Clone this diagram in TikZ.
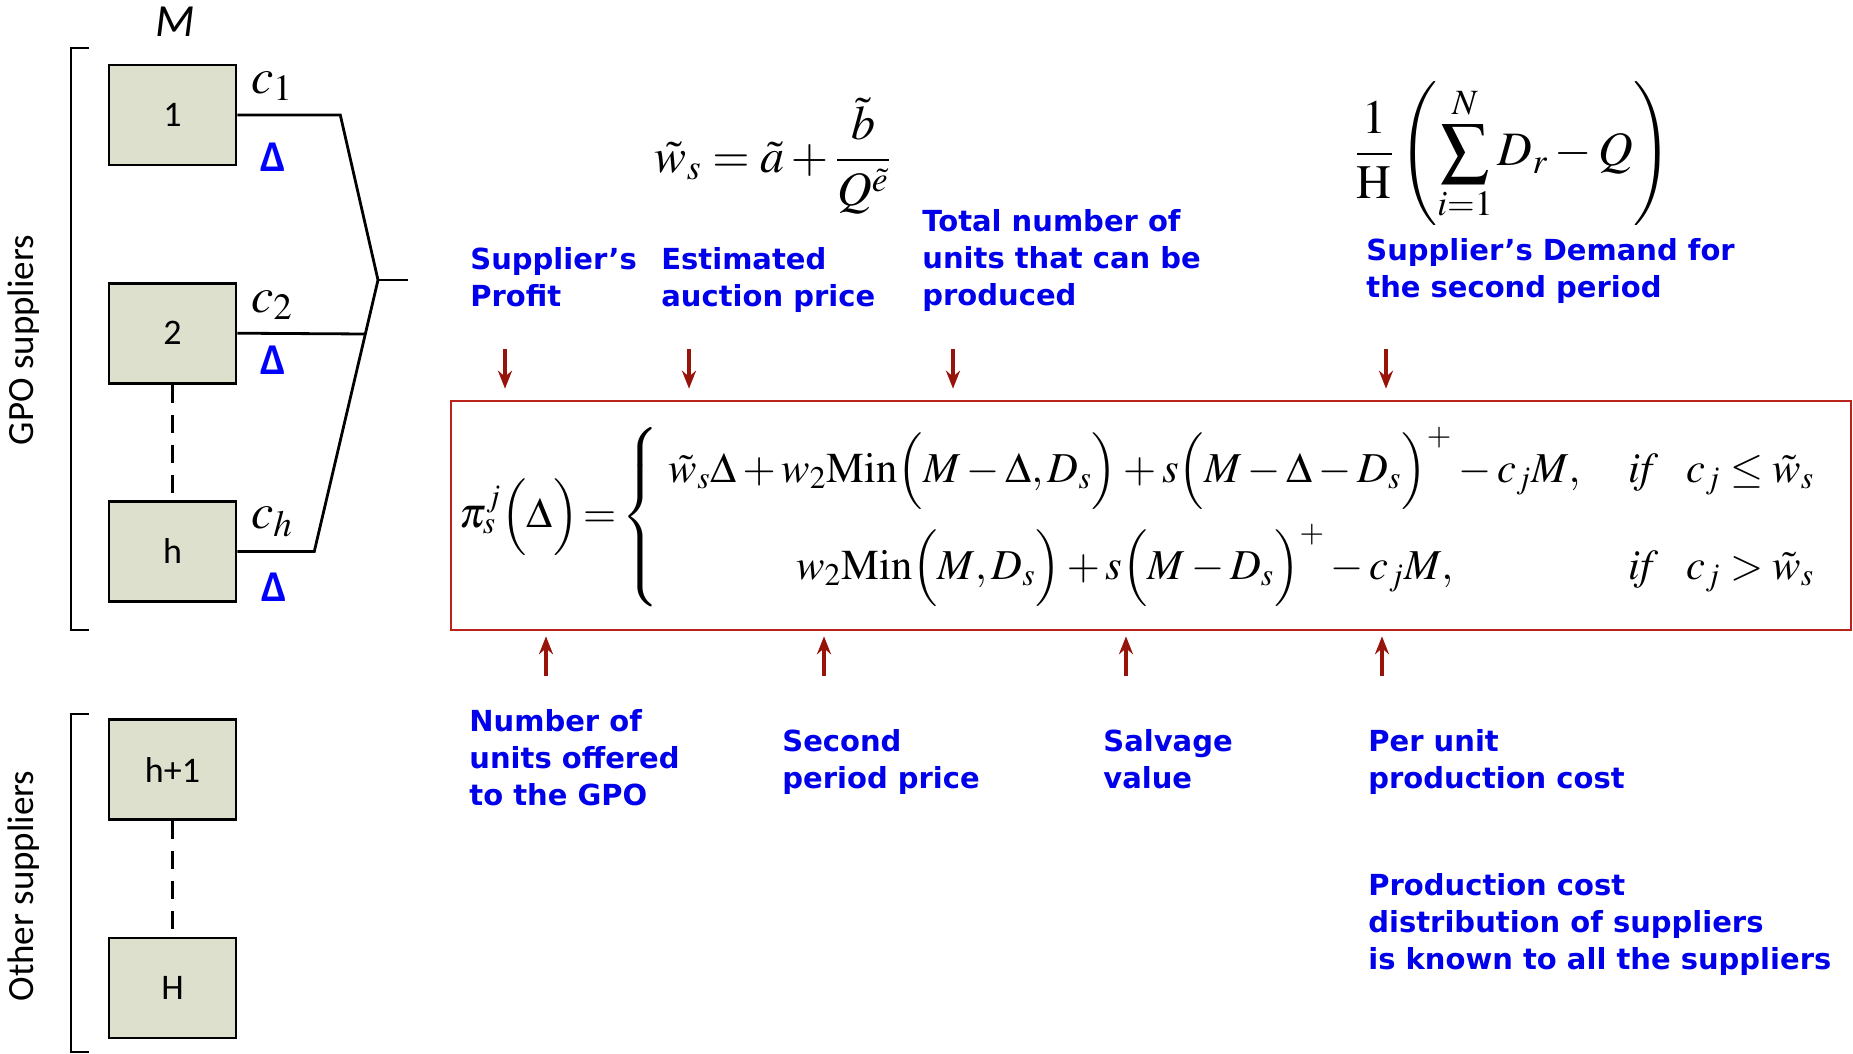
\documentclass[tikz,border=0pt]{standalone}
\usepackage{mathptmx}
\usepackage[no-math]{fontspec}
\setmainfont{Liberation Serif}
\newfontfamily\lblfont{DejaVu Sans}
\newfontfamily\boxfont{Carlito}
\usetikzlibrary{positioning,arrows.meta}
\definecolor{boxfill}{RGB}{221,224,205}
\definecolor{framered}{RGB}{185,35,25}
\definecolor{arrred}{RGB}{150,20,10}
\definecolor{lblblue}{RGB}{0,0,235}

\begin{document}
\begin{tikzpicture}[x=0.5pt, y=-0.5pt, node distance=57.8pt,
  sup/.style={draw, line width=1.3pt, fill=boxfill, minimum width=63.5pt, minimum height=50pt, inner sep=0pt, font=\boxfont\fontsize{18}{20}\selectfont},
  lbl/.style={anchor=north west, align=left, inner sep=0pt, text=lblblue, font=\lblfont\bfseries\fontsize{14.5}{18.5}\selectfont},
  grp/.style={rotate=90, inner sep=0pt, font=\boxfont\fontsize{18.5}{20}\selectfont},
  dl/.style={text=blue, inner sep=0pt, font=\boxfont\bfseries\fontsize{22}{24}\selectfont},
  cl/.style={inner sep=0pt, font=\fontsize{25}{27}\selectfont},
  mth/.style={inner sep=0pt, font=\fontsize{24}{28}\selectfont},
  arr/.style={-{Stealth[length=9pt,width=7pt,inset=3pt]}, line width=1.8pt, draw=arrred},
  wire/.style={line width=1.4pt}]
\useasboundingbox (0,0) rectangle (1853,1054);
% --- suppliers on the left
\node[inner sep=0pt, font=\boxfont\itshape\fontsize{23}{25}\selectfont] (m) at (175,22) {M};
\node[sup] (b1) at (172.5,115) {1};
\node[sup, below=of b1] (b2) {2};
\node[sup, below=of b2] (bh) {h};
\node[sup, below=of bh] (bh1) {h+1};
\node[sup, below=of bh1] (bH) {H};
\draw[wire, dash pattern=on 9pt off 6pt] (b2.south) -- (bh.north);
\draw[wire, dash pattern=on 9pt off 6pt] (bh1.south) -- (bH.north);
\draw[wire] (89,48) -- (71,48) -- (71,630) -- (89,630);
\draw[wire] (89,714) -- (71,714) -- (71,1052) -- (89,1052);
\node[grp] (gpo) at (24,340) {GPO suppliers};
\node[grp] (oth) at (24,886) {Other suppliers};
\node[cl] (c1) at (272,86) {$c_1$};
\node[cl] (c2) at (272,305) {$c_2$};
\node[cl] (ch) at (272,522) {$c_h$};
\node[dl] (d1) at (273,157) {Δ};
\node[dl] (d2) at (273,360) {Δ};
\node[dl] (dh) at (274,587) {Δ};
\coordinate (join) at (378,280);
\draw[wire] (b1.east) -- ++(103,0) -- (join);
\draw[wire] (bh.east) -- ++(77,0) -- (join);
\draw[wire] (b2.east) -- (365.3,334);
\draw[wire] (join) -- ++(30,0);
% --- top formulas and labels
\node[mth] (wtil) at (773,156) {$\displaystyle \tilde{w}_s=\tilde{a}+\frac{\tilde{b}}{Q^{\tilde{e}}}$};
\node[mth] (dem) at (1513,154) {$\displaystyle \frac{1}{\mathrm{H}}\left(\sum_{i=1}^{N}D_r-Q\right)$};
\node[lbl] (l1) at (470,247) {Supplier’s\\Profit};
\node[lbl] (l2) at (661,247) {Estimated\\auction price};
\node[lbl] (l3) at (922,209) {Total number of\\units that can be\\produced};
\node[lbl] (l4) at (1366,238) {Supplier’s Demand for\\the second period};
% --- profit function
\node[draw=framered, line width=1.3pt, minimum width=700pt, minimum height=114.5pt, inner sep=0pt] (pbox) at (1151,515.5) {};
\node[anchor=west, inner sep=0pt, font=\fontsize{21.3}{25}\selectfont] (prof) at (459,517) {$\pi_s^j\Big(\Delta\Big)\!=\!\left\{\begin{array}{cl}
  \tilde{w}_s\Delta+w_2\mathrm{Min}\Big(M-\Delta,D_s\Big)+s\Big(M-\Delta-D_s\Big)^{+}-c_jM, & \hspace{14pt}\mathit{if}\hspace{14pt}c_j\le\tilde{w}_s\\[13.5pt]
  w_2\mathrm{Min}\Big(M,D_s\Big)+s\Big(M-D_s\Big)^{+}-c_jM, & \hspace{14pt}\mathit{if}\hspace{14pt}c_j>\tilde{w}_s
  \end{array}\right.$};
\coordinate (a1) at (505,349);
\coordinate (a2) at (689,349);
\coordinate (a3) at (953,349);
\coordinate (a4) at (1386,349);
\draw[arr] (a1) -- ([yshift=5.5pt]pbox.north -| a1);
\draw[arr] (a2) -- ([yshift=5.5pt]pbox.north -| a2);
\draw[arr] (a3) -- ([yshift=5.5pt]pbox.north -| a3);
\draw[arr] (a4) -- ([yshift=5.5pt]pbox.north -| a4);
\coordinate (e1) at (546,676);
\coordinate (e2) at (824,676);
\coordinate (e3) at (1126,676);
\coordinate (e4) at (1382,676);
\draw[arr] (e1) -- ([yshift=-2.5pt]pbox.south -| e1);
\draw[arr] (e2) -- ([yshift=-2.5pt]pbox.south -| e2);
\draw[arr] (e3) -- ([yshift=-2.5pt]pbox.south -| e3);
\draw[arr] (e4) -- ([yshift=-2.5pt]pbox.south -| e4);
% --- labels below
\node[lbl] (l5) at (469,709) {Number of\\units offered\\to the GPO};
\node[lbl] (l6) at (782,729) {Second\\period price};
\node[lbl] (l7) at (1103,729) {Salvage\\value};
\node[lbl] (l8) at (1368,729) {Per unit\\production cost};
\node[lbl] (l9) at (1368,873) {Production cost\\distribution of suppliers\\is known to all the suppliers};
\end{tikzpicture}
\end{document}
